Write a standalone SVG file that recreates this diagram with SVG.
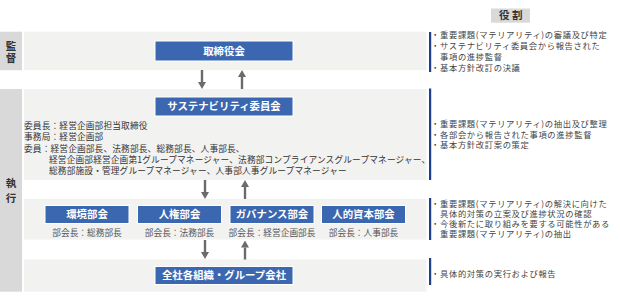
<svg xmlns="http://www.w3.org/2000/svg" width="620" height="300" viewBox="0 0 620 300">
<defs>
<style>
text{font-family:"Noto Sans CJK JP","Noto Sans",sans-serif;}
.band{fill:#f2f2f1;}
.lab{fill:#d9d9d9;}
.labt{font-size:10.5px;font-weight:bold;fill:#333;text-anchor:middle;}
.box{fill:#3b67b0;stroke:#ffffff;stroke-width:1;}
.boxt{font-size:10.4px;font-weight:bold;fill:#ffffff;text-anchor:middle;}
.body{font-size:8.7px;fill:#333;letter-spacing:0.14px;}
.sub{font-size:8.7px;fill:#555;text-anchor:middle;}
.role{font-size:8.3px;fill:#444;letter-spacing:0.65px;}
.bar{fill:#1c3f8e;}
.arr{stroke:#6b6b6b;stroke-width:2.4;fill:none;marker-end:url(#ah);}
</style>
<marker id="ah" viewBox="0 0 7 8" refX="0" refY="4" markerWidth="7" markerHeight="8" markerUnits="userSpaceOnUse" orient="auto">
<path d="M0,0 L7,4 L0,8 Z" fill="#6b6b6b"/>
</marker>
</defs>
<rect width="620" height="300" fill="#ffffff"/>

<g id="bands">
<rect class="lab" x="0" y="31.7" width="22" height="38.5"/>
<rect class="lab" x="0" y="89" width="22" height="202.7"/>
<rect class="band" x="24" y="31.7" width="402.5" height="38.5"/>
<rect class="band" x="24" y="89" width="402.5" height="91"/>
<rect class="band" x="24" y="199" width="402.5" height="40.5"/>
<rect class="band" x="24" y="259.5" width="402.5" height="32.2"/>
<text class="labt"><tspan x="11" y="49.8">監</tspan><tspan x="11" y="62.3">督</tspan></text>
<text class="labt"><tspan x="11" y="186.8">執</tspan><tspan x="11" y="201.6">行</tspan></text>
</g>

<g id="role-header">
<rect x="491" y="8.5" width="39" height="14.2" fill="#d9d9d9"/>
<text y="19.4" style="font-size:10.5px;font-weight:bold;fill:#333;"><tspan x="499">役</tspan><tspan x="512">割</tspan></text>
</g>

<g id="board">
<rect class="box" x="155" y="41" width="138" height="20"/>
<text class="boxt" x="224" y="54.8">取締役会</text>
</g>

<g id="committee">
<rect class="box" x="155" y="97" width="138" height="19"/>
<text class="boxt" x="224" y="110.2">サステナビリティ委員会</text>
<text class="body"><tspan x="24" y="129.1">委員長：経営企画部担当取締役</tspan><tspan x="24" y="140.3">事務局：経営企画部</tspan><tspan x="24" y="151.5">委員：経営企画部長、法務部長、総務部長、人事部長、</tspan><tspan x="49" y="162.7">経営企画部経営企画第1グループマネージャー、法務部コンプライアンスグループマネージャー、</tspan><tspan x="49" y="173.9">総務部施設・管理グループマネージャー、人事部人事グループマネージャー</tspan></text>
</g>

<g id="env">
<rect class="box" x="45" y="205.5" width="84" height="18"/>
<text class="boxt" x="87" y="218.3">環境部会</text>
<text class="sub" x="87" y="235.8">部会長：総務部長</text>
</g>
<g id="hr">
<rect class="box" x="137.5" y="205.5" width="84" height="18"/>
<text class="boxt" x="179.5" y="218.3">人権部会</text>
<text class="sub" x="179.5" y="235.8">部会長：法務部長</text>
</g>
<g id="gov">
<rect class="box" x="230" y="205.5" width="84" height="18"/>
<text class="boxt" x="272" y="218.3">ガバナンス部会</text>
<text class="sub" x="272" y="235.8">部会長：経営企画部長</text>
</g>
<g id="human-capital">
<rect class="box" x="321.5" y="205.5" width="84" height="18"/>
<text class="boxt" x="363.5" y="218.3">人的資本部会</text>
<text class="sub" x="363.5" y="235.8">部会長：人事部長</text>
</g>

<g id="group">
<rect class="box" x="155" y="266.5" width="138" height="18"/>
<text class="boxt" x="224" y="279.3">全社各組織・グループ会社</text>
</g>

<g id="connectors">
<line class="arr" x1="202" y1="70" x2="202" y2="82"/>
<line class="arr" x1="242" y1="89" x2="242" y2="77"/>
<line class="arr" x1="205" y1="180" x2="205" y2="192"/>
<line class="arr" x1="245" y1="199" x2="245" y2="187"/>
<line class="arr" x1="205" y1="240" x2="205" y2="252"/>
<line class="arr" x1="245" y1="259.5" x2="245" y2="247.5"/>
</g>

<g id="roles">
<rect class="bar" x="429" y="32" width="2.2" height="40"/>
<rect class="bar" x="429" y="88.5" width="2.2" height="91.5"/>
<rect class="bar" x="429" y="198" width="2.2" height="42"/>
<rect class="bar" x="429" y="258" width="2.2" height="27"/>

<text class="role"><tspan x="431" y="37.5">・</tspan><tspan x="440" y="37.5">重要課題(マテリアリティ)の審議及び特定</tspan><tspan x="431" y="48.6">・</tspan><tspan x="440" y="48.6">サステナビリティ委員会から報告された</tspan><tspan x="440" y="59.7">事項の進捗監督</tspan><tspan x="431" y="70.8">・</tspan><tspan x="440" y="70.8">基本方針改訂の決議</tspan></text>

<text class="role"><tspan x="431" y="127">・</tspan><tspan x="440" y="127">重要課題(マテリアリティ)の抽出及び整理</tspan><tspan x="431" y="137.5">・</tspan><tspan x="440" y="137.5">各部会から報告された事項の進捗監督</tspan><tspan x="431" y="148">・</tspan><tspan x="440" y="148">基本方針改訂案の策定</tspan></text>

<text class="role"><tspan x="431" y="207">・</tspan><tspan x="440" y="207">重要課題(マテリアリティ)の解決に向けた</tspan><tspan x="440" y="217">具体的対策の立案及び進捗状況の確認</tspan><tspan x="431" y="227">・</tspan><tspan x="440" y="227">今後新たに取り組みを要する可能性がある</tspan><tspan x="440" y="237">重要課題(マテリアリティ)の抽出</tspan></text>

<text class="role"><tspan x="431" y="277">・</tspan><tspan x="440" y="277">具体的対策の実行および報告</tspan></text>
</g>
</svg>
